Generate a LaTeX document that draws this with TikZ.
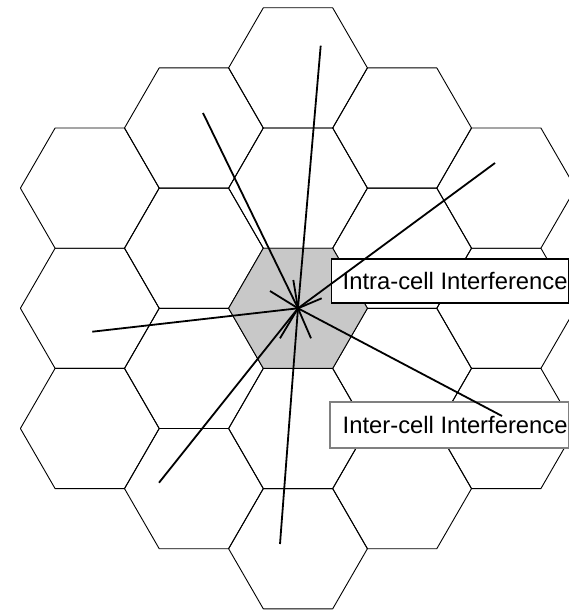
\documentclass[tikz,border=0pt]{standalone}
\usepackage{fontspec}
\setmainfont{Liberation Sans}
\usetikzlibrary{shapes.geometric}
\definecolor{cellgray}{RGB}{200,200,200}
\definecolor{boxgray}{RGB}{128,128,128}
\begin{document}
\begin{tikzpicture}[x=1pt,y=-1pt,
  cell/.style={regular polygon, regular polygon sides=6, minimum size=138.8pt,
    inner sep=0pt, outer sep=0pt, draw=black, line width=0.9pt, line join=round},
  servcell/.style={cell, fill=cellgray},
  ray/.style={draw=black, line width=1.8pt},
  labelbox/.style={draw, fill=white, line width=1.2pt},
  labeltext/.style={font=\fontsize{23.8}{28}\selectfont, anchor=west, inner sep=0pt}]
\useasboundingbox (0,0) rectangle (569,610);

% 19-cell cluster: columns spaced 1.5R apart, rows spaced sqrt(3)R apart
\foreach \c/\r [count=\i] in {-2/-1,-2/0,-2/1,
    -1/-1.5,-1/-0.5,-1/0.5,-1/1.5,
    0/-2,0/-1,0/1,0/2,
    1/-1.5,1/-0.5,1/0.5,1/1.5,
    2/-1,2/0,2/1}
  \node[cell] (cell\i) at ({298+104.1*\c},{308.3+120.2*\r}) {};

% serving cell
\node[servcell] (serving) at (298,308.3) {};

% label boxes
\path[labelbox] (331.5,259) rectangle (568.3,303);
\node[labeltext] (intra) at (342.5,281) {Intra-cell Interference};
\path[labelbox, draw=boxgray] (330,402) rectangle (568.3,448);
\node[labeltext] (inter) at (342.5,425) {Inter-cell Interference};

% interference paths from the base station
\coordinate (e1) at (203,113);
\coordinate (e2) at (320.7,45.7);
\coordinate (e3) at (495,163);
\coordinate (e4) at (92.3,331.7);
\coordinate (e5) at (159,482.7);
\coordinate (e6) at (280,544);
\coordinate (e7) at (502,416);
\coordinate (s1) at (270,291);
\coordinate (s2) at (293.3,280);
\coordinate (s3) at (321.7,298.3);
\coordinate (s4) at (280,338.3);
\coordinate (s5) at (311,338.3);

\foreach \p in {e1,e2,e3,e4,e5,e6,e7,s1,s2,s3,s4,s5}
  \draw[ray] (serving.center) -- (\p);
\end{tikzpicture}
\end{document}
